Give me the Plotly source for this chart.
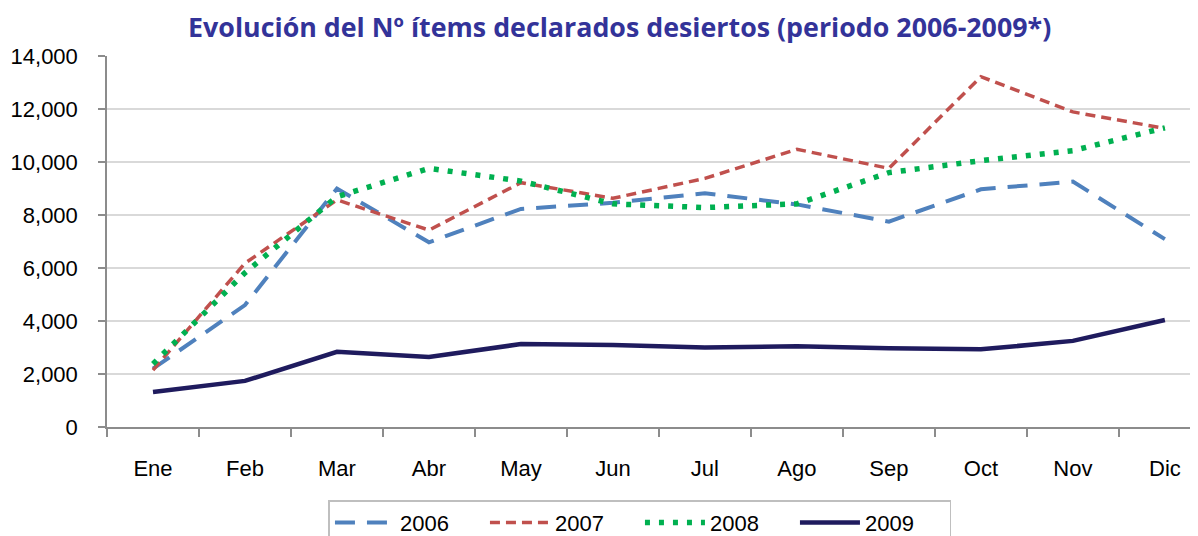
import plotly.graph_objects as go

months = ["Ene", "Feb", "Mar", "Abr", "May", "Jun", "Jul", "Ago", "Sep", "Oct", "Nov", "Dic"]
y2006 = [2200, 4600, 9000, 6970, 8230, 8460, 8820, 8400, 7750, 8970, 9260, 7090]
y2007 = [2150, 6180, 8570, 7430, 9220, 8630, 9380, 10480, 9760, 13220, 11890, 11270]
y2008 = [2380, 5820, 8690, 9760, 9280, 8420, 8280, 8420, 9600, 10050, 10430, 11290]
y2009 = [1320, 1740, 2840, 2640, 3130, 3090, 3000, 3050, 2970, 2930, 3250, 4040]
ytick_vals = [0, 2000, 4000, 6000, 8000, 10000, 12000, 14000]
ytick_text = ["0", "2,000", "4,000", "6,000", "8,000", "10,000", "12,000", "14,000"]

fig = go.Figure()
fig.add_trace(go.Scatter(x=months, y=y2006, name="2006", mode="lines",
                         line=dict(color="#4F81BD", width=4, dash="20px,12px")))
fig.add_trace(go.Scatter(x=months, y=y2007, name="2007", mode="lines",
                         line=dict(color="#C0504D", width=3.5, dash="10px,6px")))
fig.add_trace(go.Scatter(x=months, y=y2008, name="2008", mode="lines",
                         line=dict(color="#00B050", width=5.5, dash="5px,9px")))
fig.add_trace(go.Scatter(x=months, y=y2009, name="2009", mode="lines",
                         line=dict(color="#1F1B5E", width=4.5)))

tickfont = dict(family="Liberation Sans, Arial", size=22, color="#000000")

fig.update_layout(
    width=1190, height=528,
    margin=dict(l=99, r=0, t=48, b=109, autoexpand=False),
    paper_bgcolor="white", plot_bgcolor="white",
    title=dict(text="<b>Evolución del Nº ítems declarados desiertos (periodo 2006-2009*)</b>",
               x=0.514, xanchor="center", y=0.962, yanchor="middle",
               font=dict(family="Open Sans, sans-serif", size=26.8, color="#333399")),
    xaxis=dict(type="category", range=[-0.5, 11.36], showgrid=False, automargin=False,
               showline=True, linecolor="#8C8C8C", linewidth=1.5,
               ticks="outside", tickson="boundaries", ticklen=8, tickcolor="#8C8C8C", tickwidth=1.5,
               tickfont=tickfont, ticklabelstandoff=21),
    yaxis=dict(range=[0, 14000], tickvals=ytick_vals, ticktext=ytick_text, automargin=False,
               showgrid=True, gridcolor="#D9D9D9", gridwidth=1.5,
               showline=True, linecolor="#8C8C8C", linewidth=1.5,
               ticks="outside", ticklen=7, tickcolor="#8C8C8C", tickwidth=1.5,
               tickfont=tickfont, ticklabelstandoff=16, zeroline=False),
    legend=dict(orientation="h", x=0.4885, xanchor="center", y=-0.197, yanchor="top",
                bordercolor="#BFBFBF", borderwidth=1.5, bgcolor="white",
                font=dict(family="Liberation Sans, Arial", size=22, color="#000000"),
                itemwidth=60, entrywidth=80, tracegroupgap=0),
    showlegend=True,
)

fig.write_html("out.html")
